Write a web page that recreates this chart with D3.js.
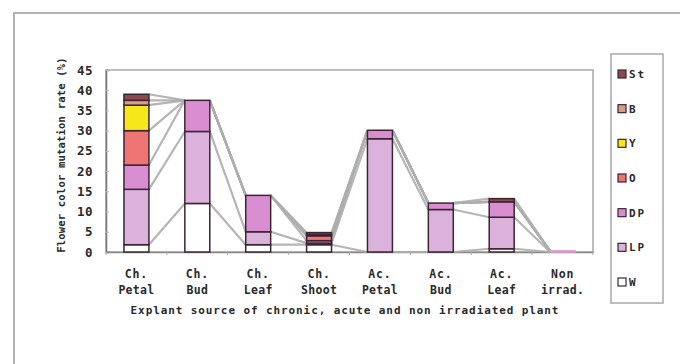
<!DOCTYPE html>
<html>
<head>
<meta charset="utf-8">
<script src="https://cdn.jsdelivr.net/npm/d3@7"></script>
<style>
  html, body { margin: 0; padding: 0; background: #fff; }
  svg { display: block; }
  text { font-family: "DejaVu Sans Mono", monospace; fill: #2a2a2a; font-weight: bold; }
</style>
</head>
<body>
<svg id="chart" width="680" height="364"></svg>
<script>
// Explant sources (two-line category labels)
const categories = ["Ch. Petal", "Ch. Bud", "Ch. Leaf", "Ch. Shoot", "Ac. Petal", "Ac. Bud", "Ac. Leaf", "Non irrad."];
const catLine1 = ["Ch.", "Ch.", "Ch.", "Ch.", "Ac.", "Ac.", "Ac.", "Non"];
const catLine2 = ["Petal", "Bud", "Leaf", "Shoot", "Petal", "Bud", "Leaf", "irrad."];

// Flower colour mutation rate (%) per colour class, stacked bottom to top
const seriesNames = ["W", "LP", "DP", "O", "Y", "B", "St"];
const W  = [1.8, 12.0, 1.8, 1.8, 0.0, 0.0, 0.8, 0.0];
const LP = [13.7, 17.8, 3.2, 0.4, 28.0, 10.5, 7.8, 0.0];
const DP = [6.0, 7.7, 9.0, 0.6, 2.1, 1.6, 3.8, 0.3];
const O  = [8.5, 0.0, 0.0, 1.2, 0.0, 0.0, 0.0, 0.0];
const Y  = [6.3, 0.0, 0.0, 0.0, 0.0, 0.0, 0.0, 0.0];
const B  = [1.2, 0.0, 0.0, 0.3, 0.0, 0.0, 0.0, 0.0];
const St = [1.5, 0.0, 0.0, 0.5, 0.0, 0.0, 0.8, 0.0];
const seriesValues = [W, LP, DP, O, Y, B, St];

const yTicks = [0, 5, 10, 15, 20, 25, 30, 35, 40, 45];
const legendOrder = ["St", "B", "Y", "O", "DP", "LP", "W"];

const colors = {
  W: "#ffffff", LP: "#dab2dc", DP: "#d98ed2", O: "#ef7474",
  Y: "#f4e81a", B: "#d99a86", St: "#8c4a4e"
};

const svg = d3.select("#chart");
const plot = { left: 106, right: 593, top: 70, bottom: 252 };

// Outer chart frame (runs past the right and bottom edges)
svg.append("rect")
  .attr("x", 14).attr("y", 13).attr("width", 700).attr("height", 400)
  .attr("fill", "#fff").attr("stroke", "#b4b4b4").attr("stroke-width", 2);

const x = d3.scaleBand().domain(categories).range([plot.left, plot.right])
  .paddingInner(0.59).paddingOuter(0.295);
const y = d3.scaleLinear().domain([0, 45]).range([plot.bottom, plot.top]);

// Stack the series
const rows = categories.map((c, i) => {
  const r = { cat: c };
  seriesNames.forEach((s, k) => r[s] = seriesValues[k][i]);
  return r;
});
const stacked = d3.stack().keys(seriesNames)(rows);

// Plot area frame
svg.append("rect")
  .attr("x", plot.left).attr("y", plot.top)
  .attr("width", plot.right - plot.left).attr("height", plot.bottom - plot.top)
  .attr("fill", "#fff").attr("stroke", "#a8a8a8").attr("stroke-width", 1.5);

// Y axis
const yAxis = svg.append("g").attr("transform", `translate(${plot.left},0)`)
  .call(d3.axisLeft(y).tickValues(yTicks).tickSize(-3).tickPadding(13));
yAxis.select(".domain").attr("stroke", "#777").attr("stroke-width", 1.5);
yAxis.selectAll(".tick line").attr("stroke", "#bbb");
yAxis.selectAll(".tick text").style("font-size", "12.5px").style("letter-spacing", "0.5px")
  .attr("fill", "#2a2a2a");

// X axis baseline with category separators
const xAxis = svg.append("g").attr("transform", `translate(0,${plot.bottom})`)
  .call(d3.axisBottom(x).tickSize(0).tickFormat(""));
xAxis.select(".domain").attr("stroke", "#888").attr("stroke-width", 1.5);
const step = x.step();
svg.append("g").selectAll("line")
  .data(d3.range(categories.length + 1))
  .join("line")
  .attr("x1", i => plot.left + i * step).attr("x2", i => plot.left + i * step)
  .attr("y1", plot.bottom).attr("y2", plot.bottom + 3)
  .attr("stroke", "#aaa");

// Series lines joining each segment top between neighbouring bars
const bw = x.bandwidth();
const seriesLines = svg.append("g");
stacked.forEach(layer => {
  for (let i = 0; i < categories.length - 1; i++) {
    seriesLines.append("line")
      .attr("x1", x(categories[i]) + bw).attr("y1", y(layer[i][1]))
      .attr("x2", x(categories[i + 1])).attr("y2", y(layer[i + 1][1]))
      .attr("stroke", "#adadad").attr("stroke-width", 2.2).attr("stroke-opacity", 0.9);
  }
});

// Bars
svg.append("g").selectAll("g")
  .data(stacked)
  .join("g")
  .attr("fill", d => colors[d.key])
  .selectAll("rect")
  .data(d => d.filter(p => p[1] - p[0] > 0))
  .join("rect")
  .attr("x", d => x(d.data.cat))
  .attr("y", d => y(d[1]))
  .attr("width", bw)
  .attr("height", d => y(d[0]) - y(d[1]))
  .attr("stroke", d => (d[1] - d[0]) < 0.5 && d[0] === 0 ? "#d9a0cf" : "#3c2432")
  .attr("stroke-width", 1.5);

// Category labels
const catG = svg.append("g");
categories.forEach((c, i) => {
  const cx = x(c) + bw / 2;
  catG.append("text").attr("x", cx).attr("y", 274).attr("dy", "0.35em")
    .attr("text-anchor", "middle").style("font-size", "11.5px").style("letter-spacing", "0.8px")
    .text(catLine1[i]);
  catG.append("text").attr("x", cx).attr("y", 290).attr("dy", "0.35em")
    .attr("text-anchor", "middle").style("font-size", "11.5px").style("letter-spacing", "0.3px")
    .text(catLine2[i]);
});

// Axis titles
svg.append("text")
  .attr("x", 345).attr("y", 310).attr("dy", "0.35em")
  .attr("text-anchor", "middle").style("font-size", "11px").style("letter-spacing", "0.9px")
  .text("Explant source of chronic, acute and non irradiated plant");
svg.append("text")
  .attr("transform", "translate(61,155) rotate(-90)")
  .attr("dy", "0.35em").attr("text-anchor", "middle")
  .style("font-size", "10.5px").style("letter-spacing", "0.2px")
  .text("Flower color mutation rate (%)");

// Legend
const lg = svg.append("g");
lg.append("rect").attr("x", 611).attr("y", 54).attr("width", 52).attr("height", 249)
  .attr("fill", "#fff").attr("stroke", "#a8a8a8").attr("stroke-width", 1.5);
const ly = d3.scalePoint().domain(legendOrder).range([74, 282]);
legendOrder.forEach(k => {
  lg.append("rect").attr("x", 618).attr("y", ly(k) - 4).attr("width", 8).attr("height", 8)
    .attr("fill", colors[k]).attr("stroke", "#3c2432").attr("stroke-width", 1.2);
  lg.append("text").attr("x", 629).attr("y", ly(k)).attr("dy", "0.35em")
    .style("font-size", "11px").style("letter-spacing", "2px").text(k);
});
</script>
</body>
</html>
